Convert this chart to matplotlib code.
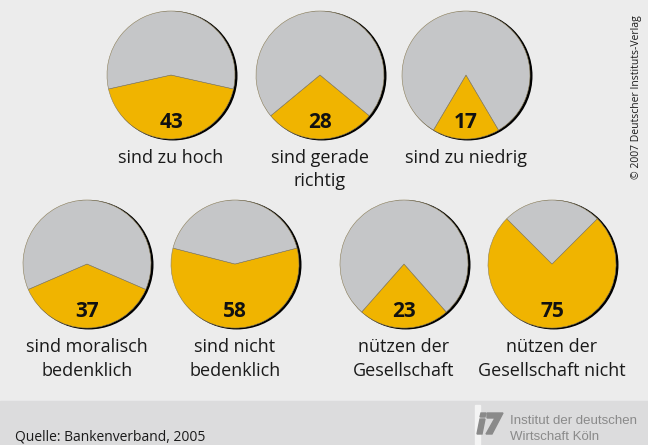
import matplotlib.pyplot as plt
from matplotlib.patches import Circle, Rectangle, Polygon

# ── Data ─────────────────────────────────────────────────────────────────────
labels = ["sind zu hoch", "sind gerade\nrichtig", "sind zu niedrig",
          "sind moralisch\nbedenklich", "sind nicht\nbedenklich",
          "nützen der\nGesellschaft", "nützen der\nGesellschaft nicht"]
values = [43, 28, 17, 37, 58, 23, 75]

# pie centres in pixels (x, y from top) and radius
centers = [(171, 75), (320, 75), (466, 75),
           (87, 264), (235, 264), (404, 264), (552, 264)]
RADIUS = 64

YELLOW = "#f0b400"
GREY = "#c5c6c8"
BG = "#ececec"
BAND = "#dcdcdd"
W, H = 648, 445

plt.rcParams["font.family"] = ["Open Sans", "DejaVu Sans"]

fig = plt.figure(figsize=(W / 100, H / 100), dpi=100, facecolor=BG)
bg = fig.add_axes([0, 0, 1, 1])
bg.set_xlim(0, W)
bg.set_ylim(H, 0)
bg.axis("off")
bg.add_patch(Rectangle((0, 401), W, 44, color=BAND, zorder=0))

# ── Pies ─────────────────────────────────────────────────────────────────────
for (cx, cy), v, lab in zip(centers, values, labels):
    pad = RADIUS + 3
    ax = fig.add_axes([(cx - pad) / W, 1 - (cy + pad) / H, 2 * pad / W, 2 * pad / H])
    ax.add_patch(Circle((0.028, -0.012), 1.0, color="black", zorder=0))
    ax.pie([v, 100 - v], colors=[YELLOW, GREY], startangle=270 - 1.8 * v,
           radius=1.0, wedgeprops=dict(edgecolor="#8c7f5a", linewidth=0.4))
    ax.set_xlim(-pad / RADIUS, pad / RADIUS)
    ax.set_ylim(-pad / RADIUS, pad / RADIUS)
    ax.text(0, -0.74, str(v), ha="center", va="center", fontsize=15,
            fontweight="bold", color="#111111")
    for i, line in enumerate(lab.split("\n")):
        bg.text(cx, cy + 83 + i * 23.5, line, ha="center", va="center",
                fontsize=13, color="#1a1a1a")

# ── Footer / credits ─────────────────────────────────────────────────────────
bg.text(15, 437, "Quelle: Bankenverband, 2005", ha="left", va="center",
        fontsize=10, color="#1a1a1a")
bg.text(637, 97, "© 2007 Deutscher Instituts-Verlag", rotation=90,
        ha="center", va="center", fontsize=7.5, color="#1a1a1a")

# logo
bg.add_patch(Rectangle((475, 405), 5, 40, color="#f4f4f4", zorder=1))
bg.add_patch(Polygon([(481, 413), (486, 413), (485, 417), (480, 417)],
                     color="#8a8a8a", zorder=2))
bg.add_patch(Polygon([(480, 419), (485, 419), (482, 434), (477, 434)],
                     color="#8a8a8a", zorder=2))
bg.add_patch(Polygon([(487, 413), (503, 413), (492, 434), (486, 434),
                      (495, 418), (487, 418)], color="#8a8a8a", zorder=2))
bg.text(510, 421, "Institut der deutschen", ha="left", va="center",
        fontsize=9.5, color="#8a8a8a", family=["Liberation Sans"])
bg.text(510, 437, "Wirtschaft Köln", ha="left", va="center",
        fontsize=9.5, color="#8a8a8a", family=["Liberation Sans"])

plt.savefig("out.png", dpi=100, facecolor=BG)
